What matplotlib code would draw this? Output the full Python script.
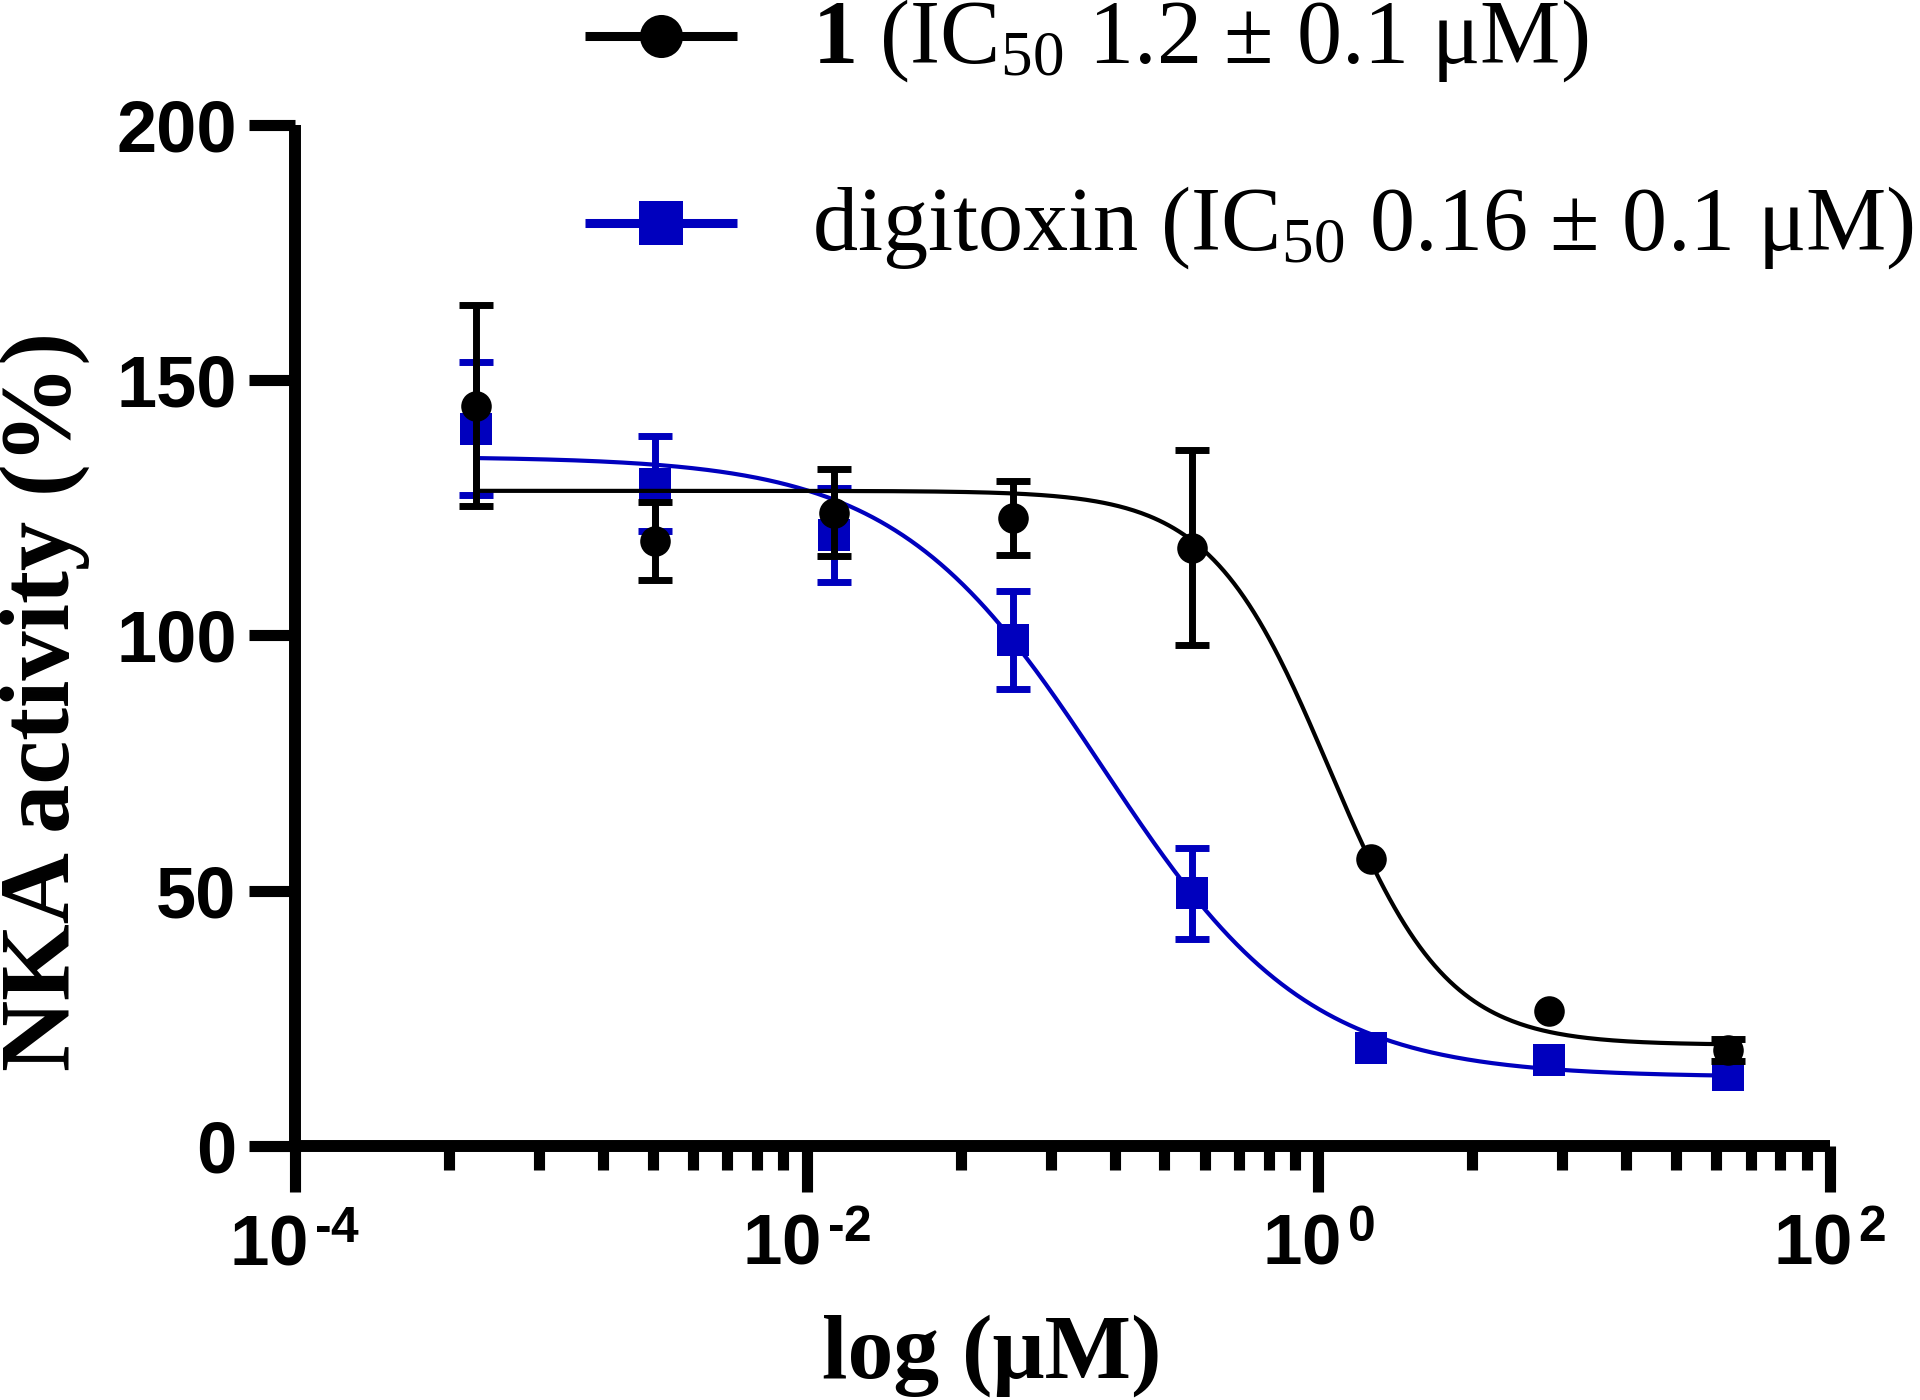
import numpy as np
import matplotlib
matplotlib.use("Agg")
import matplotlib.pyplot as plt
from matplotlib.ticker import FixedLocator, NullFormatter

plt.rcParams.update({
    "mathtext.fontset": "custom",
    "mathtext.rm": "Liberation Serif",
    "mathtext.bf": "Liberation Serif:bold",
    "mathtext.it": "Liberation Serif:italic",
    "mathtext.sf": "Liberation Sans:bold",
})

# ---------------- data ----------------
conc = [0.000512, 0.00256, 0.0128, 0.064, 0.32, 1.6, 8.0, 40.0]   # µM
cmp1_mean = [145.0, 118.5, 124.0, 123.0, 117.2, 56.2, 26.4, 18.8]
cmp1_err = [19.7, 7.7, 8.5, 7.2, 19.0, 0.0, 0.0, 2.2]
dig_mean = [140.5, 129.7, 119.6, 99.0, 49.5, 19.2, 16.8, 13.9]
dig_err = [13.0, 9.3, 9.2, 9.6, 8.9, 0.0, 0.0, 0.0]

# 4-parameter logistic fit parameters (top, bottom, IC50, Hill)
cmp1_fit = (128.3, 19.8, 1.10, 1.88)
dig_fit = (135.0, 13.5, 0.143, 1.075)

legend_labels = [r"$\mathbf{1}$ (IC$_{50}$ 1.2 ± 0.1 μM)",
                 r"digitoxin (IC$_{50}$ 0.16 ± 0.1 μM)"]
yticks = [0, 50, 100, 150, 200]
xticks = [1e-4, 1e-2, 1e0, 1e2]
xtick_labels = [r"$\mathsf{10}^{\,\mathsf{‐4}}$", r"$\mathsf{10}^{\,\mathsf{‐2}}$",
                r"$\mathsf{10}^{\,\mathsf{0}}$", r"$\mathsf{10}^{\,\mathsf{2}}$"]

BLUE = "#0000BE"
BLACK = "#000000"


def logistic(x, top, bottom, ic50, hill):
    return bottom + (top - bottom) / (1.0 + (x / ic50) ** hill)


fig = plt.figure(figsize=(19.2, 14), dpi=100)
ax = fig.add_axes([295 / 1920, 1 - 1146 / 1400, 1535 / 1920, (1146 - 124.7) / 1400])

x = np.array(conc)
xfit = np.logspace(np.log10(x[0]), np.log10(x[-1]), 500)


def draw(mean, err, fit, color, marker, ms, z):
    mean = np.array(mean)
    err = np.array(err)
    ax.plot(xfit, logistic(xfit, *fit), color=color, lw=3, zorder=z)
    m = err > 0
    ax.errorbar(x[m], mean[m], yerr=err[m], fmt="none", ecolor=color,
                elinewidth=5, capsize=12, capthick=5, zorder=z + 1)
    ax.plot(x, mean, marker, color=color, ms=ms, mew=0, zorder=z + 2,
            linestyle="none")


draw(dig_mean, dig_err, dig_fit, BLUE, "s", 23, 3)
draw(cmp1_mean, cmp1_err, cmp1_fit, BLACK, "o", 22, 6)

ax.set_xscale("log")
ax.set_xlim(1e-4, 1e2)
ax.set_ylim(0, 200)
for s in ("top", "right"):
    ax.spines[s].set_visible(False)
for s in ("left", "bottom"):
    ax.spines[s].set_linewidth(8.6)
    ax.spines[s].set_capstyle("butt")

ax.set_yticks(yticks)
ax.set_yticklabels([str(t) for t in yticks], fontfamily="Liberation Sans",
                   fontweight="bold", fontsize=52)
ax.xaxis.set_major_locator(FixedLocator(xticks))
ax.set_xticklabels(xtick_labels, fontsize=51)
minor = [10.0 ** b * k * k for b in (-4, -2, 0) for k in range(2, 10)]
ax.xaxis.set_minor_locator(FixedLocator(minor))
ax.xaxis.set_minor_formatter(NullFormatter())
ax.yaxis.set_minor_locator(FixedLocator([]))

ax.tick_params(axis="both", which="major", length=33, width=8, color="black")
ax.tick_params(axis="y", which="major", pad=9)
ax.tick_params(axis="x", which="major", pad=14)
ax.tick_params(axis="x", which="minor", length=17, width=8, color="black")

fig.text(45 / 1920, 1 - 701 / 1400, "NKA activity (%)", rotation=90,
         ha="center", va="center", fontfamily="Liberation Serif",
         fontweight="bold", fontsize=71)
fig.text(992 / 1920, 1 - 1378 / 1400, "log (μM)", ha="center", va="baseline",
         fontfamily="Liberation Serif", fontweight="bold", fontsize=66)

# legend (drawn in pixel coordinates on an overlay)
ov = fig.add_axes([0, 0, 1, 1])
ov.set_xlim(0, 1920)
ov.set_ylim(1400, 0)
ov.axis("off")
for row_y, color, marker, label in ((36, BLACK, "o", legend_labels[0]),
                                     (223, BLUE, "s", legend_labels[1])):
    ov.plot([585, 737], [row_y, row_y], color=color, lw=6.5,
            solid_capstyle="butt")
    ov.plot([661], [row_y], marker, color=color, ms=31, mew=0)
    ov.text(812, row_y + 27, label, ha="left", va="baseline",
            fontfamily="Liberation Serif", fontsize=65)

fig.savefig("out.png", dpi=100)
